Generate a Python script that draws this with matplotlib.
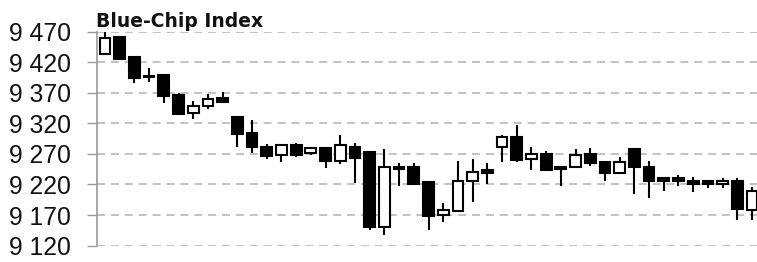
import matplotlib
matplotlib.use("Agg")
import matplotlib.pyplot as plt
import numpy as np

plt.rcParams['lines.scale_dashes'] = False

title = "Blue-Chip Index"
opens  = [9434, 9461, 9428, 9398, 9399, 9367, 9337, 9349, 9361, 9331,
          9305, 9282, 9268, 9284, 9271, 9280, 9259, 9281, 9273, 9150,
          9249, 9249, 9224, 9170, 9177, 9226, 9243, 9281, 9298, 9262,
          9270, 9249, 9248, 9270, 9257, 9239, 9278, 9249, 9230, 9230,
          9226, 9226, 9220, 9226, 9179]
highs  = [9469, 9462, 9430, 9411, 9400, 9369, 9356, 9368, 9372, 9332,
          9326, 9287, 9286, 9288, 9280, 9281, 9301, 9288, 9273, 9278,
          9255, 9255, 9224, 9190, 9259, 9261, 9255, 9301, 9317, 9281,
          9274, 9249, 9278, 9280, 9259, 9265, 9278, 9258, 9231, 9236,
          9232, 9227, 9231, 9231, 9216]
lows   = [9434, 9425, 9386, 9388, 9353, 9334, 9327, 9344, 9353, 9282,
          9272, 9262, 9256, 9265, 9268, 9247, 9253, 9223, 9146, 9138,
          9217, 9220, 9145, 9158, 9177, 9191, 9220, 9256, 9256, 9243,
          9242, 9217, 9248, 9250, 9226, 9238, 9204, 9198, 9210, 9217,
          9207, 9214, 9214, 9162, 9162]
closes = [9460, 9426, 9394, 9396, 9365, 9335, 9349, 9360, 9355, 9303,
          9281, 9267, 9285, 9268, 9279, 9258, 9285, 9264, 9150, 9248,
          9245, 9221, 9169, 9179, 9226, 9240, 9239, 9297, 9260, 9270,
          9244, 9245, 9268, 9255, 9239, 9257, 9248, 9225, 9226, 9226,
          9221, 9220, 9226, 9180, 9210]
y_ticks = [9120, 9170, 9220, 9270, 9320, 9370, 9420, 9470]

W, H = 757, 262
fig = plt.figure(figsize=(W / 100, H / 100), dpi=100)
ax_left, ax_right = 97 / W, 1.0
ax_top, ax_bot = 1 - 31.7 / H, 1 - 245.6 / H
ax = fig.add_axes([ax_left, ax_bot, ax_right - ax_left, ax_top - ax_bot])

n = len(opens)
x = np.arange(n)
o = np.array(opens); c = np.array(closes); hi = np.array(highs); lo = np.array(lows)

# grid
for t in y_ticks:
    ax.axhline(t, color="#c2c2c2", lw=1.4, dashes=(5.8, 4.2), zorder=0)

# wicks
ax.vlines(x, lo, hi, color="black", lw=1.5, zorder=2)
# bodies
up = c >= o
bottoms = np.minimum(o, c)
heights = np.maximum(np.abs(c - o), 0.8)
ax.bar(x[up], heights[up], bottom=bottoms[up], width=0.73,
       facecolor="white", edgecolor="black", linewidth=1.5, zorder=3)
ax.bar(x[~up], heights[~up], bottom=bottoms[~up], width=0.73,
       facecolor="black", edgecolor="black", linewidth=1.5, zorder=3)

ax.set_xlim(-8 / 14.7, (n - 1) + 5 / 14.7)
ax.set_ylim(9120, 9470)
ax.set_yticks(y_ticks)
ax.set_yticklabels([f"{t:,}".replace(",", " ") for t in y_ticks],
                   fontfamily="Liberation Sans", fontsize=17.8)
ax.tick_params(axis="y", length=7.2, width=1.0, color="#9a9a9a", pad=11.5,
               labelcolor="#111111")
ax.set_xticks([])
for s in ["top", "right", "bottom"]:
    ax.spines[s].set_visible(False)
ax.spines["left"].set_color("#9a9a9a")
ax.spines["left"].set_linewidth(1.2)

fig.text(96 / W, 1 - 26.7 / H, title, fontfamily="DejaVu Sans", fontweight="bold",
         fontsize=13.5, ha="left", va="baseline", color="#111111")

fig.savefig("out.png", dpi=100)
